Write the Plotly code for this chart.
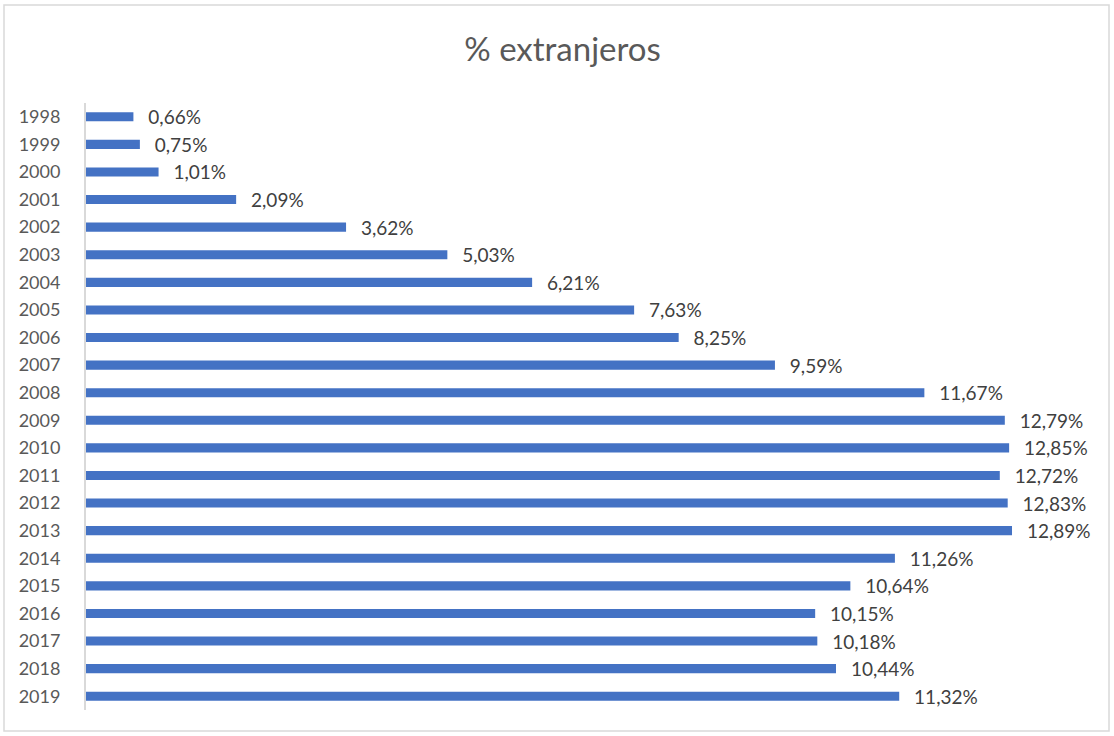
import plotly.graph_objects as go

years = [str(y) for y in range(1998, 2020)]
values = [0.66, 0.75, 1.01, 2.09, 3.62, 5.03, 6.21, 7.63, 8.25, 9.59, 11.67,
          12.79, 12.85, 12.72, 12.83, 12.89, 11.26, 10.64, 10.15, 10.18, 10.44, 11.32]
labels = [("%.2f%%" % v).replace(".", ",") for v in values]

FONT = "Lato, 'Open Sans', sans-serif"

fig = go.Figure(go.Bar(
    x=values, y=years, orientation="h",
    marker=dict(color="#4472C4", line=dict(width=0)),
    text=["\u2002\u2009" + t for t in labels],
    textposition="outside", cliponaxis=False, constraintext="none",
    textfont=dict(family=FONT, size=19, color="#404040"),
))

fig.update_layout(
    width=1114, height=736,
    margin=dict(l=86, r=28, t=103, b=26),
    paper_bgcolor="white", plot_bgcolor="white",
    bargap=0.67,
    showlegend=False,
    title=dict(text="% extranjeros", x=0.505, xanchor="center", y=0.933, yanchor="middle",
               font=dict(family=FONT, size=33, color="#595959")),
    xaxis=dict(range=[0, 13.92], visible=False, fixedrange=True),
    yaxis=dict(type="category", autorange="reversed", showline=True, linecolor="#D9D9D9",
               linewidth=2, showgrid=False, ticks="", ticklabelstandoff=20,
               tickfont=dict(family=FONT, size=18, color="#595959")),
    shapes=[dict(type="rect", xref="paper", yref="paper",
                 x0=(4 - 86) / 1000, x1=(1109 - 86) / 1000,
                 y0=(710 - 731) / 607, y1=(710 - 5) / 607,
                 line=dict(color="#D9D9D9", width=1.5), fillcolor="rgba(0,0,0,0)")],
)

fig.write_html("out.html", config={"displayModeBar": False},
               post_script="document.body.style.margin='0';")
